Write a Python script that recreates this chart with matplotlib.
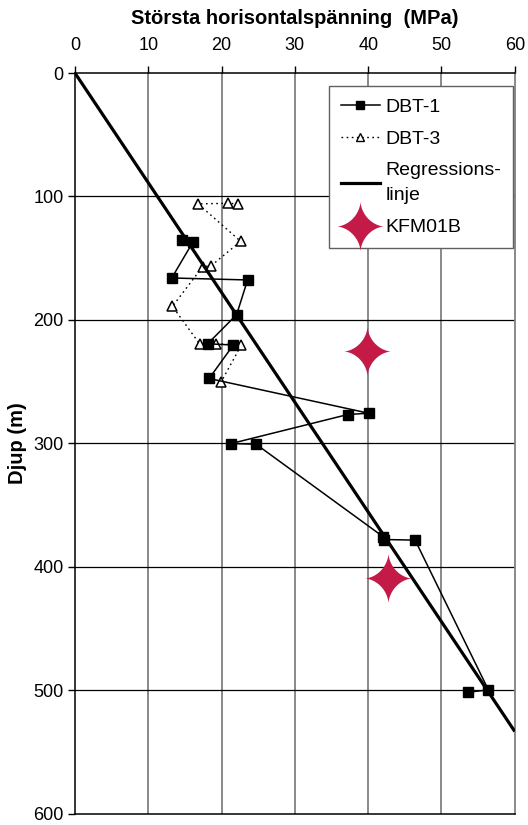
import numpy as np
import matplotlib
matplotlib.use("Agg")
import matplotlib.pyplot as plt
from matplotlib.path import Path
from matplotlib.lines import Line2D

plt.rcParams['font.family'] = ['Liberation Sans', 'DejaVu Sans']

# ---- data ----
DBT1_STRESS = [14.55, 16.1, 13.2, 23.55, 22.05, 18.1, 21.6, 18.3, 40.05, 37.2,
               21.3, 24.7, 42.05, 42.1, 46.4, 56.4, 53.6]
DBT1_DEPTH = [135, 136.8, 166, 167.6, 195.7, 219.3, 220.3, 247.4, 275.5, 276.6,
              300.1, 300.6, 375.6, 377.8, 378.3, 499.6, 501.5]

DBT3_STRESS = [22.3, 20.9, 16.8, 22.6, 18.6, 17.4, 13.3, 17.05, 19.2, 22.7, 19.9]
DBT3_DEPTH = [106, 105.5, 106, 136.3, 156, 157, 189, 219.8, 219.3, 220.3, 250.6]

REG_STRESS = [0, 60]
REG_DEPTH = [0, 533.3]

KFM_STRESS = [39.8, 42.7]
KFM_DEPTH = [225, 408.6]

XTICKS = [0, 10, 20, 30, 40, 50, 60]
YTICKS = [0, 100, 200, 300, 400, 500, 600]

STAR_RED = "#c41a47"


def star_marker(p=3.3, n=200):
    # four-pointed star with concave sides
    t = np.linspace(0, 2 * np.pi, n, endpoint=False)
    c, s = np.cos(t), np.sin(t)
    x = np.sign(c) * np.abs(c) ** p * 0.95
    y = np.sign(s) * np.abs(s) ** p
    verts = np.column_stack([x, y])
    verts = np.vstack([verts, verts[:1]])
    codes = [Path.MOVETO] + [Path.LINETO] * (len(verts) - 2) + [Path.CLOSEPOLY]
    return Path(verts, codes)


STAR = star_marker()

fig = plt.figure(figsize=(5.28, 8.25), dpi=100)
ax = fig.add_axes([0.142, 0.0135, 0.833, 0.898])

# grid
for xv in XTICKS[1:-1]:
    ax.axvline(xv, color="#808080", lw=1.3, zorder=1)
for yv in YTICKS[1:-1]:
    ax.axhline(yv, color="black", lw=0.9, zorder=1)

ax.plot(DBT3_STRESS, DBT3_DEPTH, ls=(0, (1.2, 2.5)), color="black", lw=1.0,
        marker="^", ms=6.5, mfc="white", mec="black", mew=1.1, zorder=3)
ax.plot(DBT1_STRESS, DBT1_DEPTH, ls="-", color="black", lw=1.1,
        marker="s", ms=7, mfc="black", mec="black", zorder=4)
ax.plot(REG_STRESS, REG_DEPTH, color="black", lw=2.3, zorder=5,
        solid_capstyle="butt")
ax.plot(KFM_STRESS, KFM_DEPTH, ls="none", marker=STAR, ms=36,
        mfc=STAR_RED, mec="none", zorder=6)

ax.set_xlim(0, 60)
ax.set_ylim(600, 0)
ax.set_xticks(XTICKS)
ax.set_yticks(YTICKS)
ax.xaxis.tick_top()
ax.xaxis.set_label_position("top")
ax.tick_params(axis="x", top=True, bottom=False, direction="out", length=5,
               width=1, labelsize=13, pad=9)
ax.tick_params(axis="y", left=True, direction="out", length=5, width=1,
               labelsize=13, pad=3)

ax.set_xlabel("Största horisontalspänning  (MPa)", fontsize=14.5,
              fontweight="bold", labelpad=9)
ax.set_ylabel("Djup (m)", fontsize=14.5, fontweight="bold", labelpad=5)

for side in ["top", "left", "bottom"]:
    ax.spines[side].set_color("black")
    ax.spines[side].set_linewidth(1.1)
ax.spines["right"].set_color("#808080")
ax.spines["right"].set_linewidth(1.3)

handles = [
    Line2D([], [], color="black", lw=1.1, marker="s", ms=6, mfc="black"),
    Line2D([], [], color="black", lw=1.0, ls=(0, (1.2, 2.5)), marker="^",
           ms=6, mfc="white", mec="black"),
    Line2D([], [], color="black", lw=2.3),
    Line2D([], [], ls="none", marker=STAR, ms=36, mfc=STAR_RED, mec="none"),
]
labels = ["DBT-1", "DBT-3", "Regressions-\nlinje", "KFM01B"]
leg = ax.legend(handles, labels, loc="upper left", bbox_to_anchor=(0.578, 0.982),
                fontsize=14, frameon=True, fancybox=False, framealpha=1,
                edgecolor="#606060", handlelength=2.0, handletextpad=0.3,
                borderpad=0.6, labelspacing=0.75, borderaxespad=0)
leg.get_frame().set_linewidth(1.0)
leg.set_zorder(10)
for t in leg.get_texts():
    t.set_linespacing(1.6)

fig.savefig("out.png", dpi=100)
